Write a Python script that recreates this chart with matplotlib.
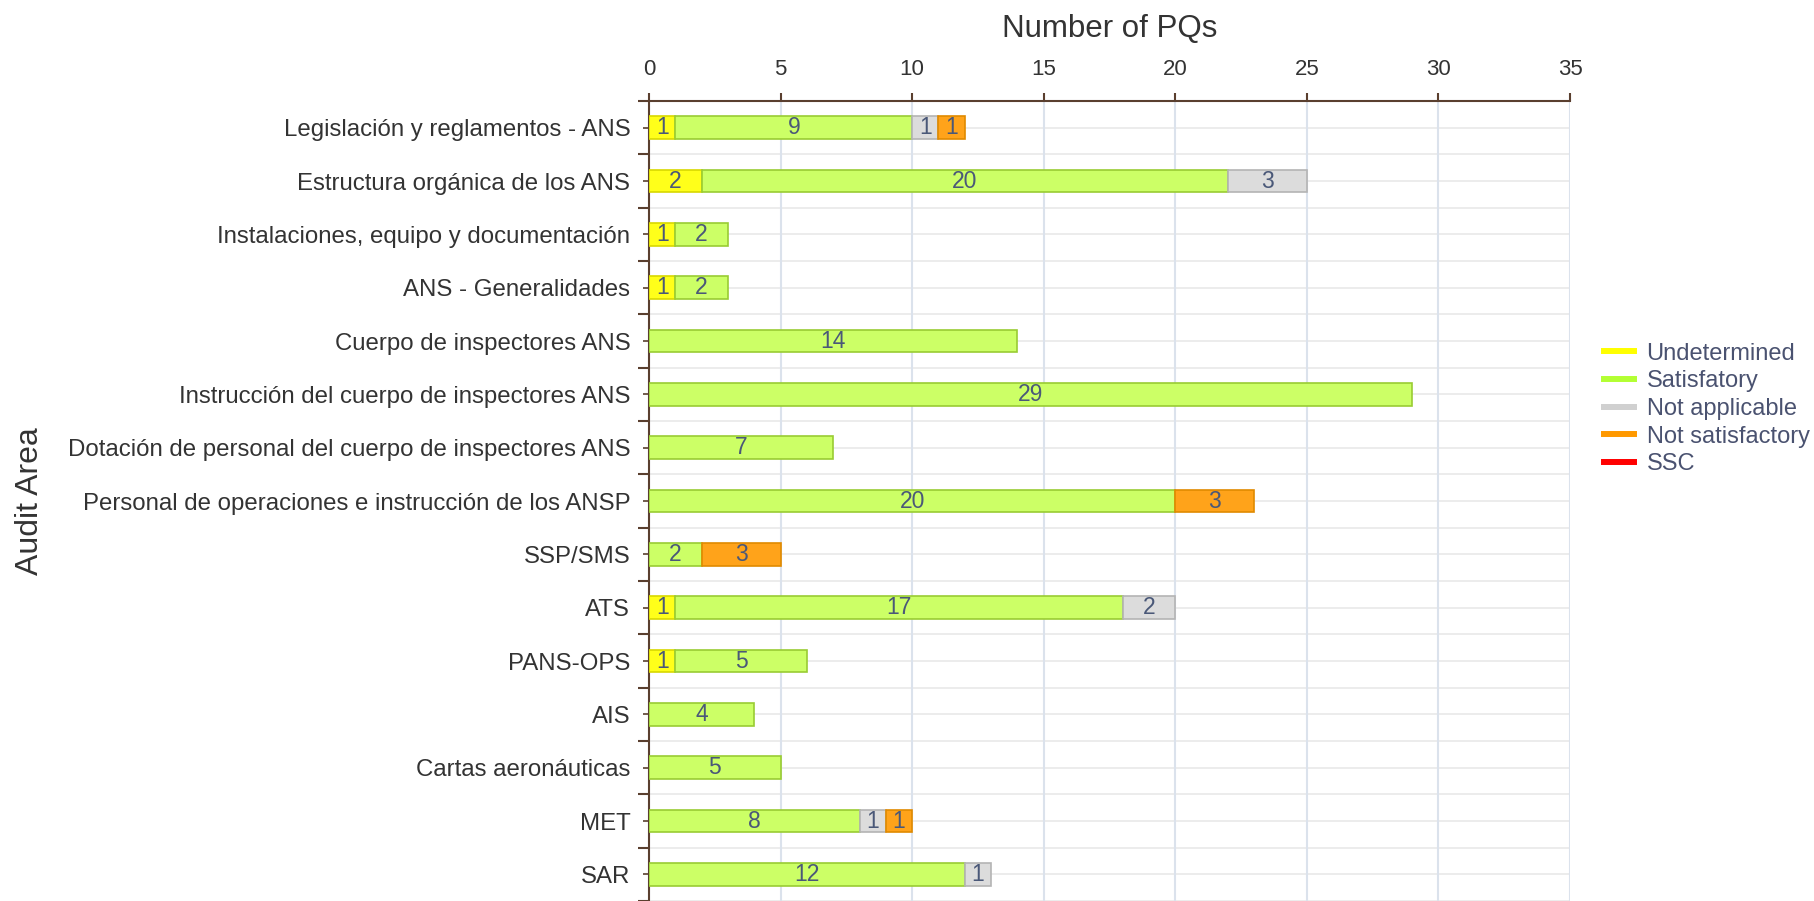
import numpy as np
import matplotlib
matplotlib.use("Agg")
import matplotlib.pyplot as plt
from matplotlib.lines import Line2D

plt.rcParams["font.family"] = ["Liberation Sans", "DejaVu Sans"]

categories = [
    "Legislación y reglamentos - ANS",
    "Estructura orgánica de los ANS",
    "Instalaciones, equipo y documentación",
    "ANS - Generalidades",
    "Cuerpo de inspectores ANS",
    "Instrucción del cuerpo de inspectores ANS",
    "Dotación de personal del cuerpo de inspectores ANS",
    "Personal de operaciones e instrucción de los ANSP",
    "SSP/SMS",
    "ATS",
    "PANS-OPS",
    "AIS",
    "Cartas aeronáuticas",
    "MET",
    "SAR",
]
undetermined     = [1, 2, 1, 1, 0, 0, 0, 0, 0, 1, 1, 0, 0, 0, 0]
satisfactory     = [9, 20, 2, 2, 14, 29, 7, 20, 2, 17, 5, 4, 5, 8, 12]
not_applicable   = [1, 3, 0, 0, 0, 0, 0, 0, 0, 2, 0, 0, 0, 1, 1]
not_satisfactory = [1, 0, 0, 0, 0, 0, 0, 3, 3, 0, 0, 0, 0, 1, 0]
ssc              = [0, 0, 0, 0, 0, 0, 0, 0, 0, 0, 0, 0, 0, 0, 0]

series = [
    ("Undetermined", undetermined, "#ffff1a", "#d8d800", "#ffff00"),
    ("Satisfatory", satisfactory, "#ccff66", "#99cc33", "#b3ff33"),
    ("Not applicable", not_applicable, "#dcdcdc", "#b4b4b4", "#d0d0d0"),
    ("Not satisfactory", not_satisfactory, "#ffa31a", "#e08a00", "#ff9900"),
    ("SSC", ssc, "#ff0000", "#cc0000", "#ff0000"),
]

text_col = "#333333"
axis_col = "#5a3f2f"
val_col = "#4a5878"

fig = plt.figure(figsize=(18.14, 9.01), dpi=100)
ax = fig.add_axes([0.3578, 0.0, 0.5077, 0.8879])

y = np.arange(len(categories))
left = np.zeros(len(categories))
for name, vals, fc, ec, lc in series:
    vals = np.array(vals, dtype=float)
    nz = vals > 0
    if nz.any():
        ax.barh(y[nz], vals[nz], left=left[nz], height=0.43, color=fc,
                edgecolor=ec, linewidth=1.2, zorder=3)
    for yi, l, v in zip(y[nz], left[nz], vals[nz]):
        ax.text(l + v / 2, yi, f"{int(v)}", ha="center", va="center",
                fontsize=16.5, color=val_col, zorder=4)
    left += vals

ax.set_xlim(0, 35)
ax.set_ylim(len(categories) - 0.5, -0.5)
ax.xaxis.tick_top()
ax.xaxis.set_label_position("top")
ax.set_xticks(np.arange(0, 36, 5))
ax.set_yticks(y)
ax.set_yticklabels(categories)
ax.set_yticks(np.arange(-0.5, len(categories), 1), minor=True)

ax.set_xlabel("Number of PQs", fontsize=22.5, color=text_col, labelpad=16)
ax.set_ylabel("Audit Area", fontsize=23, color=text_col)
ax.yaxis.set_label_coords(-0.6556, 0.5)

ax.tick_params(axis="x", which="major", labelsize=16, colors=axis_col,
               labelcolor=text_col, length=6, width=1.5, pad=9)
ax.tick_params(axis="y", which="major", labelsize=17.3, colors=axis_col,
               labelcolor=text_col, length=4, width=1.2, pad=9.5)
ax.tick_params(axis="y", which="minor", colors=axis_col, length=8, width=1.5)

for s in ["right", "bottom"]:
    ax.spines[s].set_visible(False)
for s in ["top", "left"]:
    ax.spines[s].set_color(axis_col)
    ax.spines[s].set_linewidth(1.5)

ax.grid(axis="x", which="major", color="#dbe2ec", linewidth=1.5, zorder=0)
for yy in np.arange(-0.5, len(categories), 0.5):
    ax.axhline(yy, color="#e9e9e9", linewidth=1.2, zorder=0)
ax.set_axisbelow(True)

handles = [Line2D([0], [0], color=lc, linewidth=4.3) for _, _, _, _, lc in series]
labels = [s[0] for s in series]
fig.legend(handles, labels, loc="center left", bbox_to_anchor=(0.8843, 0.546),
           frameon=False, fontsize=17, handlelength=1.25, handletextpad=0.55,
           labelspacing=0.24, borderaxespad=0, borderpad=0,
           labelcolor="#4a5270")

fig.savefig("out.png", dpi=100)
